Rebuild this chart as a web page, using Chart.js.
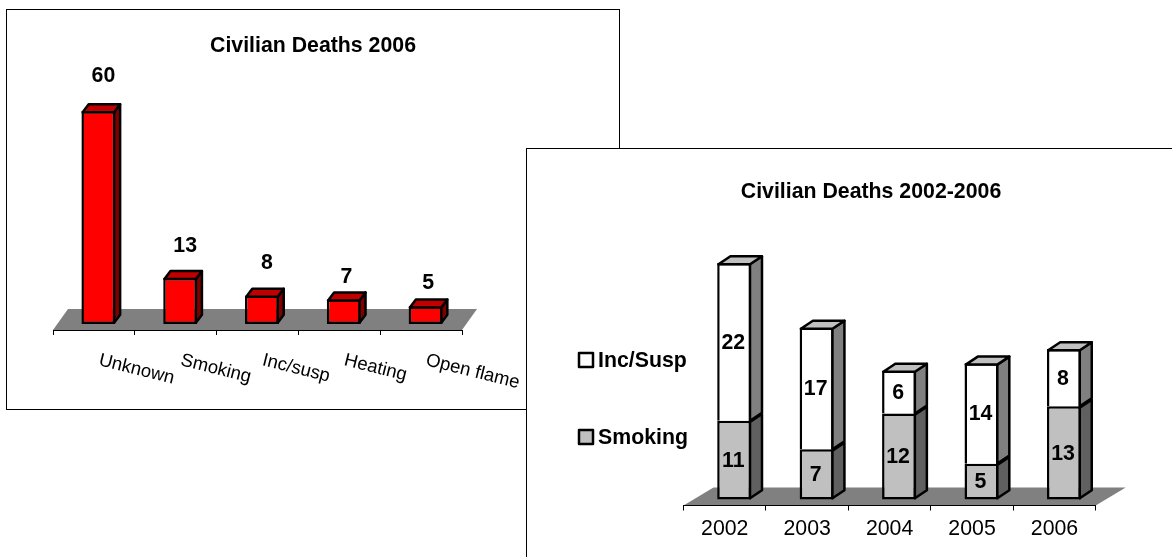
<!DOCTYPE html>
<html>
<head>
<meta charset="utf-8">
<title>Civilian Deaths</title>
<script src="https://cdn.jsdelivr.net/npm/chart.js@4"></script>
<style>
  html, body { margin: 0; padding: 0; background: #fff; overflow: hidden; }
  body { width: 1172px; height: 557px; position: relative; }
  .panel { position: absolute; background: #fff; border: 1px solid #000; box-sizing: content-box; }
  .panel canvas { position: absolute; left: 0; top: 0; }
  #panelCauses { left: 6px; top: 9px; width: 612px; height: 399px; }
  #panelYears { left: 526px; top: 148px; width: 700px; height: 420px; }
</style>
</head>
<body>
<div class="panel" id="panelCauses"><canvas id="causes" width="612" height="399"></canvas></div>
<div class="panel" id="panelYears"><canvas id="years" width="688" height="408"></canvas></div>
<script>
// values
const causeLabels = ['Unknown', 'Smoking', 'Inc/susp', 'Heating', 'Open flame'];
const causeDeaths = [60, 13, 8, 7, 5];

const yearLabels = ['2002', '2003', '2004', '2005', '2006'];
const smokingDeaths = [11, 7, 12, 5, 13];
const incSuspDeaths = [22, 17, 6, 14, 8];

// the number labels on the left chart don't sit at one fixed distance from the bars
const causeLabelLift = [35, 32, 32, 22, 23];
const causeLabelShift = [5, 5, 5, 2.5, 2.5];

const FONT = '"Liberation Sans", Arial, sans-serif';
const TEXT_SIZE = 21.3;
const STROKE = 2.5;

function poly(ctx, pts, fill) {
    ctx.beginPath();
    pts.forEach((p, i) => i ? ctx.lineTo(p[0], p[1]) : ctx.moveTo(p[0], p[1]));
    ctx.closePath();
    ctx.fillStyle = fill;
    ctx.fill();
    ctx.stroke();
}

// fake 3d: floor, side and top faces of the bars, text that Chart.js can't place
const bars3d = {
    id: 'bars3d',
    afterLayout(chart) {
        // title centred on the whole panel, not on the padded area
        chart.titleBlock.left = 0;
        chart.titleBlock.right = chart.width;
    },
    afterDatasetsUpdate(chart, args, opts) {
        chart.getSortedVisibleDatasetMetas().forEach(meta => {
            meta.data.forEach(el => { el.x += opts.shift; });
        });
    },
    beforeDraw(chart, args, opts) {
        const ctx = chart.ctx;
        const a = chart.chartArea;
        ctx.save();
        ctx.fillStyle = '#808080';
        ctx.beginPath();
        ctx.moveTo(a.left, a.bottom);
        ctx.lineTo(a.left + opts.floor[0], a.bottom + opts.floor[1]);
        ctx.lineTo(a.right + opts.floor[0], a.bottom + opts.floor[1]);
        ctx.lineTo(a.right, a.bottom);
        ctx.closePath();
        ctx.fill();
        ctx.restore();
    },
    afterDatasetsDraw(chart, args, opts) {
        const ctx = chart.ctx;
        const dx = opts.depth[0], dy = opts.depth[1];
        const metas = chart.getSortedVisibleDatasetMetas();
        ctx.save();
        ctx.strokeStyle = '#000';
        ctx.lineWidth = STROKE;
        ctx.lineJoin = 'round';
        metas.forEach((meta, s) => {
            meta.data.forEach(el => {
                const l = el.x - el.width / 2 + STROKE / 2;
                const r = el.x + el.width / 2 - STROKE / 2;
                const last = s === metas.length - 1;
                const t = el.y + STROKE / 2;
                const b = s === 0 ? el.base - STROKE / 2 : el.base;
                poly(ctx, [[r, t], [r + dx, t + dy], [r + dx, b + dy], [r, b]], opts.sideColors[s]);
                if (last) {
                    poly(ctx, [[l, t], [l + dx, t + dy], [r + dx, t + dy], [r, t]], opts.topColor);
                }
            });
        });

        ctx.fillStyle = '#000';
        ctx.textAlign = 'center';
        ctx.textBaseline = 'middle';
        ctx.font = 'bold ' + TEXT_SIZE + 'px ' + FONT;
        metas.forEach(meta => {
            const values = chart.data.datasets[meta.index].data;
            meta.data.forEach((el, i) => {
                if (opts.labelLift) {
                    ctx.fillText(values[i], el.x + opts.labelShift[i], el.y - opts.labelLift[i]);
                } else {
                    ctx.fillText(values[i], el.x - 1, (el.y + el.base) / 2 + 1);
                }
            });
        });

        // legend, spaced much wider than the built in one can be
        if (opts.legend) {
            ctx.textAlign = 'left';
            opts.legend.forEach((item, i) => {
                const ds = chart.data.datasets[item];
                const y = opts.legendTop + i * opts.legendGap;
                ctx.fillStyle = ds.backgroundColor;
                ctx.fillRect(opts.legendLeft, y, 14, 14);
                ctx.strokeRect(opts.legendLeft, y, 14, 14);
                ctx.fillStyle = '#000';
                ctx.fillText(ds.label, opts.legendLeft + 19, y + 8);
            });
        }

        // slanted category names on the left chart
        if (opts.slanted) {
            const x = chart.scales.x;
            ctx.textAlign = 'left';
            ctx.textBaseline = 'alphabetic';
            ctx.font = '18.5px ' + FONT;
            chart.data.labels.forEach((name, i) => {
                ctx.save();
                ctx.translate(x.getPixelForValue(i) + 4, chart.chartArea.bottom + 35);
                ctx.rotate(14 * Math.PI / 180);
                ctx.fillText(name, 0, 0);
                ctx.restore();
            });
        }
        ctx.restore();
    }
};

function xAxis(showTicks, height) {
    return {
        offset: true,
        afterFit: s => { s.height = height; },
        grid: { display: true, drawOnChartArea: false, drawTicks: true, tickLength: 5, color: '#000', offset: true },
        border: { display: true, color: '#000', width: 1 },
        ticks: { display: showTicks, color: '#000', padding: 6, maxRotation: 0, autoSkip: false, font: { family: FONT, size: TEXT_SIZE } }
    };
}

function titleOpts(text, top, bottom) {
    return {
        display: true,
        text: text,
        color: '#000',
        padding: { top: top, bottom: bottom },
        font: { family: FONT, size: TEXT_SIZE, weight: 'bold', lineHeight: 1.2 }
    };
}

new Chart(document.getElementById('causes').getContext('2d'), {
    type: 'bar',
    plugins: [bars3d],
    data: {
        labels: causeLabels,
        datasets: [{
            label: 'Civilian Deaths 2006',
            data: causeDeaths,
            backgroundColor: '#ff0000',
            borderColor: '#000',
            borderWidth: STROKE,
            borderSkipped: false,
            barPercentage: 0.415,
            categoryPercentage: 1
        }]
    },
    options: {
        responsive: false,
        animation: false,
        layout: { padding: { left: 46, right: 157 } },
        scales: {
            x: xAxis(false, 79),
            y: { display: false, min: -1.69, max: 74.37 }
        },
        plugins: {
            legend: { display: false },
            tooltip: { enabled: false },
            title: titleOpts('Civilian Deaths 2006', 23.2, 1.24),
            bars3d: {
                shift: 4.5,
                floor: [15, -21],
                depth: [6, -8],
                sideColors: ['#800000'],
                topColor: '#c00000',
                labelLift: causeLabelLift,
                labelShift: causeLabelShift,
                slanted: true
            }
        }
    }
});

new Chart(document.getElementById('years').getContext('2d'), {
    type: 'bar',
    plugins: [bars3d],
    data: {
        labels: yearLabels,
        datasets: [{
            label: 'Smoking',
            data: smokingDeaths,
            backgroundColor: '#c0c0c0',
            borderColor: '#000',
            borderWidth: STROKE,
            borderSkipped: false,
            barPercentage: 0.413,
            categoryPercentage: 1
        }, {
            label: 'Inc/Susp',
            data: incSuspDeaths,
            backgroundColor: '#ffffff',
            borderColor: '#000',
            borderWidth: { top: STROKE, left: STROKE, right: STROKE, bottom: 0 },
            borderSkipped: false,
            barPercentage: 0.413,
            categoryPercentage: 1
        }]
    },
    options: {
        responsive: false,
        animation: false,
        layout: { padding: { left: 156.5, right: 119.3 } },
        scales: {
            x: Object.assign(xAxis(true, 51.5), { stacked: true }),
            y: { display: false, stacked: true, min: -0.84, max: 40.55 }
        },
        plugins: {
            legend: { display: false },
            tooltip: { enabled: false },
            title: titleOpts('Civilian Deaths 2002-2006', 30.2, 4.24),
            bars3d: {
                shift: 9.5,
                floor: [30, -18],
                depth: [12, -8],
                sideColors: ['#606060', '#808080'],
                topColor: '#c0c0c0',
                legend: [1, 0],
                legendLeft: 52,
                legendTop: 204,
                legendGap: 77
            }
        }
    }
});
</script>
</body>
</html>
